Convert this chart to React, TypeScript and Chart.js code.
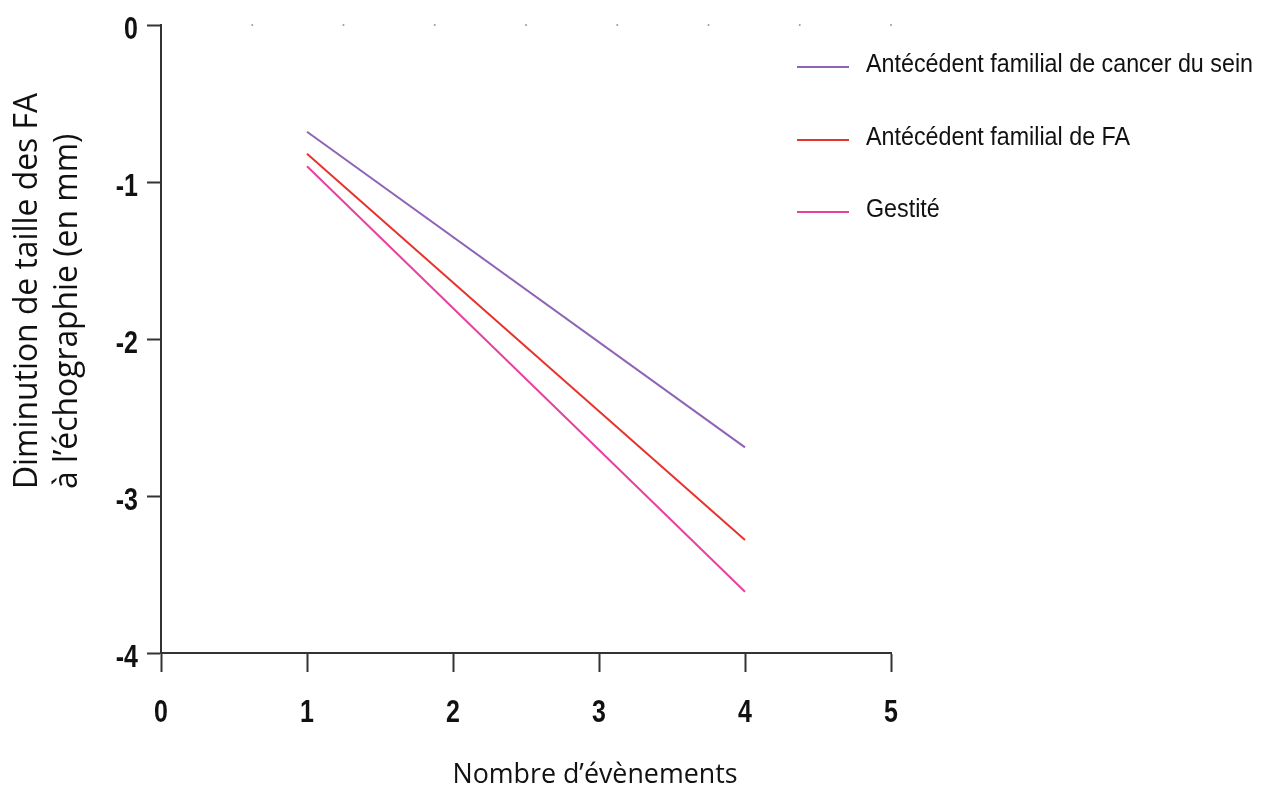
import React, { useEffect, useRef } from "react";
import { Chart, registerables } from "chart.js";

Chart.register(...registerables);

const xValues = [1, 4];
const seriesLabels = [
  "Antécédent familial de cancer du sein",
  "Antécédent familial de FA",
  "Gestité",
];
const seriesCancer = [-0.68, -2.69];
const seriesFA = [-0.82, -3.28];
const seriesGestite = [-0.9, -3.61];
const seriesColors = ["#8E63B5", "#E8322C", "#E8409E"];
const xTicks = [0, 1, 2, 3, 4, 5];
const yTicks = [0, -1, -2, -3, -4];
const topDotX = [0.625, 1.25, 1.875, 2.5, 3.125, 3.75, 4.375, 5];
const yTitleLines = ["Diminution de taille des FA", "à l\u2019échographie (en mm)"];
const xTitle = "Nombre d\u2019évènements";

const SANS = "'Liberation Sans', Arial, sans-serif";
const TITLE_FONT = "'Open Sans', 'DejaVu Sans', sans-serif";

function drawSquished(ctx: CanvasRenderingContext2D, text: string, x: number, y: number, f: number, align: CanvasTextAlign) {
  ctx.save();
  ctx.translate(x, y);
  ctx.scale(f, 1);
  ctx.textAlign = align;
  ctx.fillText(text, 0, 0);
  ctx.restore();
}

const overlayPlugin = {
  id: "overlay",
  afterDraw(chart: any) {
    const ctx = chart.ctx as CanvasRenderingContext2D;
    const ds = chart.data.datasets.slice(0, seriesLabels.length);
    ctx.save();
    ctx.textBaseline = "alphabetic";
    ctx.fillStyle = "#111";

    // tick labels (positions from the library scales)
    const xs = chart.scales.x;
    const ys = chart.scales.y;
    ctx.font = `bold 32px ${SANS}`;
    const tf = 0.78;
    xTicks.forEach((v) => {
      drawSquished(ctx, String(v), xs.getPixelForValue(v), 722, tf, "center");
    });
    yTicks.forEach((v) => {
      drawSquished(ctx, String(v), 138, ys.getPixelForValue(v) + 14, tf, "right");
    });

    // legend
    const legendY = [67, 140, 212];
    ctx.font = `26px ${SANS}`;
    const lf = 387 / ctx.measureText(ds[0].label).width;
    ds.forEach((d: any, i: number) => {
      const y = legendY[i];
      ctx.strokeStyle = d.borderColor;
      ctx.lineWidth = 2;
      ctx.beginPath();
      ctx.moveTo(797, y);
      ctx.lineTo(849, y);
      ctx.stroke();
      drawSquished(ctx, d.label, 866, y + 5, lf, "left");
    });

    // y title (left-aligned, rotated)
    ctx.font = `33px ${TITLE_FONT}`;
    const w0 = ctx.measureText(yTitleLines[0]).width;
    const yf = Math.min(1, 396 / w0);
    const bx = [37, 77];
    yTitleLines.forEach((t, i) => {
      ctx.save();
      ctx.translate(bx[i], 489);
      ctx.rotate(-Math.PI / 2);
      ctx.scale(yf, 1);
      ctx.textAlign = "left";
      ctx.fillText(t, 0, 0);
      ctx.restore();
    });

    // x title
    ctx.font = `28px ${TITLE_FONT}`;
    const xw = ctx.measureText(xTitle).width;
    drawSquished(ctx, xTitle, 595, 783, Math.min(1, 285 / xw), "center");
    ctx.restore();
  },
};

export default function App() {
  const ref = useRef<HTMLCanvasElement>(null);
  useEffect(() => {
    document.body.style.margin = "0";
    const datasets: any[] = [seriesCancer, seriesFA, seriesGestite].map((vals, i) => ({
      label: seriesLabels[i],
      data: xValues.map((x, j) => ({ x, y: vals[j] })),
      borderColor: seriesColors[i],
      backgroundColor: seriesColors[i],
      borderWidth: 2,
      pointRadius: 0,
      borderCapStyle: "butt" as const,
      fill: false,
    }));
    datasets.push({
      label: "dots",
      data: topDotX.map((x) => ({ x, y: 0 })),
      showLine: false,
      pointRadius: 1,
      pointBorderWidth: 0,
      pointBackgroundColor: "#9a9a9a",
      borderColor: "#9a9a9a",
      backgroundColor: "#9a9a9a",
      clip: false,
    });
    const chart = new Chart(ref.current!, {
      type: "line",
      data: { datasets },
      plugins: [overlayPlugin],
      options: {
        animation: false,
        responsive: false,
        layout: { padding: { top: 25, right: 377, left: 0, bottom: 0 } },
        plugins: { legend: { display: false }, tooltip: { enabled: false } },
        scales: {
          x: {
            type: "linear",
            min: 0,
            max: 5,
            afterBuildTicks: (s: any) => {
              s.ticks = xTicks.map((v) => ({ value: v }));
            },
            afterFit: (s: any) => {
              s.height = 136;
            },
            ticks: { display: false },
            grid: {
              drawOnChartArea: false,
              drawTicks: true,
              tickLength: 19,
              tickWidth: 2,
              tickColor: "#333",
            },
            border: { display: true, color: "#333", width: 2 },
          },
          y: {
            type: "linear",
            min: -4,
            max: 0,
            afterBuildTicks: (s: any) => {
              s.ticks = yTicks.map((v) => ({ value: v }));
            },
            ticks: { display: false },
            afterFit: (s: any) => {
              s.width = 161;
            },
            grid: {
              drawOnChartArea: false,
              drawTicks: true,
              tickLength: 14,
              tickWidth: 2,
              tickColor: "#333",
            },
            border: { display: true, color: "#333", width: 2 },
          },
        },
      },
    });
    return () => chart.destroy();
  }, []);
  return (
    <div style={{ width: 1268, height: 789, background: "#fff" }}>
      <canvas ref={ref} width={1268} height={789} />
    </div>
  );
}
